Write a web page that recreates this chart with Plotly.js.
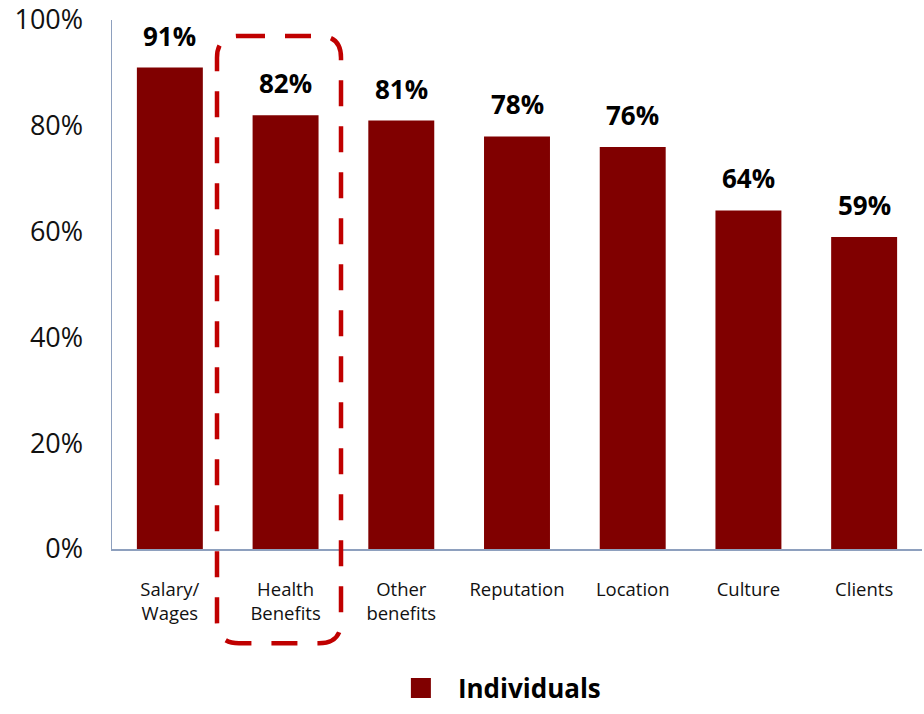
<!DOCTYPE html>
<html>
<head>
<meta charset="utf-8">
<script src="https://cdn.plot.ly/plotly-3.0.1.min.js"></script>
<style>html,body{margin:0;padding:0;background:#fff;}#chart{width:924px;height:714px;}</style>
</head>
<body>
<div id="chart"></div>
<script>
var categories = ["Salary/<br>Wages", "Health<br>Benefits", "Other<br>benefits", "Reputation", "Location", "Culture", "Clients"];
var values = [91, 82, 81, 78, 76, 64, 59];
var valueLabels = ["91%", "82%", "81%", "78%", "76%", "64%", "59%"];
var seriesName = "Individuals";
var yTicks = [0, 20, 40, 60, 80, 100];

var FONT = "Open Sans, Noto Sans, sans-serif";
var BAR = "#800000";

var bar = {
  type: "bar",
  x: categories,
  y: values,
  marker: {color: BAR},
  showlegend: false,
  hoverinfo: "skip"
};
var legendTrace = {
  type: "scatter",
  mode: "markers",
  x: [null],
  y: [null],
  name: seriesName,
  marker: {symbol: "square", size: 16, color: BAR, line: {color: BAR, width: 4}},
  showlegend: true
};

var annotations = categories.map(function (c, i) {
  return {
    x: c, y: values[i], xref: "x", yref: "y",
    text: valueLabels[i], showarrow: false,
    yanchor: "bottom", yshift: 12,
    font: {family: FONT, size: 26, color: "#000", weight: "bold"}
  };
});

// rounded dashed highlight box (paper coordinates)
var W = 810, H = 533;
var xL = (217 - 112) / W, xR = (341 - 112) / W, yT = (553 - 36) / H, yB = (553 - 648) / H;
var rx = 22 / W, ry = 22 / H;
var path = "M" + (xL + rx) + "," + yT +
  " L" + (xR - rx) + "," + yT +
  " Q" + xR + "," + yT + " " + xR + "," + (yT - ry) +
  " L" + xR + "," + (yB + ry) +
  " Q" + xR + "," + yB + " " + (xR - rx) + "," + yB +
  " L" + (xL + rx) + "," + yB +
  " Q" + xL + "," + yB + " " + xL + "," + (yB + ry) +
  " L" + xL + "," + (yT - ry) +
  " Q" + xL + "," + yT + " " + (xL + rx) + "," + yT + " Z";

var layout = {
  width: 924, height: 714,
  margin: {l: 112, r: 2, t: 20, b: 161},
  paper_bgcolor: "#fff", plot_bgcolor: "#fff",
  font: {family: FONT, color: "#000"},
  bargap: 0.43,
  xaxis: {
    type: "category",
    showline: true, linecolor: "#8EA0BE", linewidth: 1.5,
    ticks: "", showgrid: false, zeroline: false,
    tickfont: {family: FONT, size: 18.5, color: "#111"},
    ticklabelstandoff: 23,
    automargin: false, fixedrange: true
  },
  yaxis: {
    range: [0, 100],
    tickvals: yTicks,
    ticktext: yTicks.map(function (v) { return v + "%"; }),
    showline: true, linecolor: "#8EA0BE", linewidth: 1.5,
    ticks: "", showgrid: false, zeroline: false,
    tickfont: {family: FONT, size: 27, color: "#111"},
    ticklabelstandoff: 22,
    automargin: false, fixedrange: true
  },
  legend: {
    orientation: "h", x: 0.4727, xanchor: "center", y: -0.263, yanchor: "middle",
    font: {family: FONT, size: 26, color: "#000", weight: "bold"},
    itemwidth: 64
  },
  annotations: annotations,
  shapes: [{
    type: "path", xref: "paper", yref: "paper", path: path,
    line: {color: "#C00000", width: 4.5, dash: "26px,20px"},
    fillcolor: "rgba(0,0,0,0)", layer: "above"
  }]
};

Plotly.newPlot("chart", [bar, legendTrace], layout, {displayModeBar: false, staticPlot: true});
</script>
</body>
</html>
